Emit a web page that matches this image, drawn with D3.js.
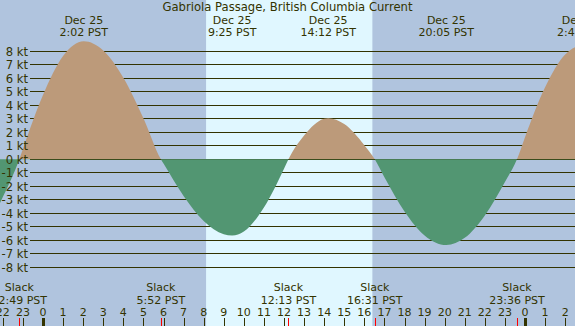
<!DOCTYPE html>
<html>
<head>
<meta charset="utf-8">
<script src="https://cdn.jsdelivr.net/npm/d3@7"></script>
<style>
  body { margin: 0; padding: 0; background: #fff; }
  svg { display: block; }
  text { font-family: "DejaVu Sans", sans-serif; font-size: 11px; fill: #333300; }
  text.big { font-size: 11.6px; }
</style>
</head>
<body>
<svg id="chart" width="575" height="326"></svg>
<script>
// current speed (hour of Dec 25, knots)
var hours = [-3, -2, -1.18, -1, 0, 1, 2.03, 3, 4, 5, 5.87, 6, 7, 8, 9, 9.42, 10, 11, 12, 12.22,
             13, 14, 14.2, 15, 16, 16.52, 17, 18, 19, 20.08, 21, 22, 23, 23.6, 24, 25, 26, 26.8, 27.5];
var knots = [-5.6, -2.8, 0, 0.77, 4.77, 7.65, 8.74, 8.06, 6.05, 3.05, 0, -0.32, -2.71, -4.57, -5.55, -5.65, -5.35, -3.57, -0.7, 0,
             1.77, 3.01, 3.05, 2.61, 1.05, 0, -1.33, -3.86, -5.64, -6.35, -5.82, -4.16, -1.68, 0, 1.64, 5.33, 7.76, 8.4, 8.1];

// max flood / max ebb labels along the top
var peakHours = [2.03, 9.42, 14.2, 20.08, 26.8];
var peakDates = ["Dec 25", "Dec 25", "Dec 25", "Dec 25", "Dec 26"];
var peakTimes = ["2:02 PST", "9:25 PST", "14:12 PST", "20:05 PST", "2:48 PST"];

// slack water along the bottom
var slackHours = [-1.18, 5.87, 12.22, 16.52, 23.6];
var slackTimes = ["22:49 PST", "5:52 PST", "12:13 PST", "16:31 PST", "23:36 PST"];

// daylight
var sunrise = 8.12;
var sunset = 16.4;

var ktTicks = [8, 7, 6, 5, 4, 3, 2, 1, 0, -1, -2, -3, -4, -5, -6, -7, -8];
var hourTicks = [-2, -1, 0, 1, 2, 3, 4, 5, 6, 7, 8, 9, 10, 11, 12, 13, 14, 15, 16, 17, 18, 19, 20, 21, 22, 23, 24, 25, 26];

var title = "Gabriola Passage, British Columbia Current";

var W = 575, H = 326;
var svg = d3.select("svg#chart");

var x = d3.scaleLinear().domain([0, 24]).range([43, 525]);
var y = d3.scaleLinear().domain([-8, 8]).range([267.3, 51.3]);
var y0 = Math.floor(y(0));

var data = hours.map(function (h, i) { return {h: h, v: knots[i]}; });

// background: night, then the daylight band
svg.append("rect").attr("width", W).attr("height", H).attr("fill", "#b0c4de");
svg.append("rect")
  .attr("x", x(sunrise)).attr("y", 0)
  .attr("width", x(sunset) - x(sunrise)).attr("height", H)
  .attr("fill", "#e0f7ff");

// clip regions above / below zero
var defs = svg.append("defs");
defs.append("clipPath").attr("id", "above")
  .append("rect").attr("x", 0).attr("y", 0).attr("width", W).attr("height", y0);
defs.append("clipPath").attr("id", "below")
  .append("rect").attr("x", 0).attr("y", y0).attr("width", W).attr("height", H - y0);

// grid lines (zero line drawn later)
svg.append("g").selectAll("line")
  .data(ktTicks.filter(function (k) { return k !== 0; }))
  .enter().append("line")
  .attr("x1", 30).attr("x2", W)
  .attr("y1", function (k) { return Math.floor(y(k)) + 0.5; })
  .attr("y2", function (k) { return Math.floor(y(k)) + 0.5; })
  .attr("stroke", "#333300").attr("stroke-width", 1);

var area = d3.area()
  .x(function (d) { return x(d.h); })
  .y0(y(0))
  .y1(function (d) { return y(d.v); })
  .curve(d3.curveMonotoneX);

// flood
svg.append("path").datum(data)
  .attr("d", area).attr("fill", "#bc9a7a")
  .attr("clip-path", "url(#above)");

// zero line
svg.append("line")
  .attr("x1", 30).attr("x2", W)
  .attr("y1", y0 + 0.5).attr("y2", y0 + 0.5)
  .attr("stroke", "#333300").attr("stroke-width", 1);

// ebb
svg.append("path").datum(data)
  .attr("d", area).attr("fill", "#529672")
  .attr("clip-path", "url(#below)");

// kt labels
svg.append("g").selectAll("text")
  .data(ktTicks)
  .enter().append("text")
  .attr("class", "big")
  .attr("x", 28)
  .attr("y", function (k) { return Math.floor(y(k)) + 4.5; })
  .attr("text-anchor", "end")
  .text(function (k) { return k + " kt"; });

// title
svg.append("text").attr("class", "big")
  .attr("x", 287.5).attr("y", 11).attr("text-anchor", "middle").text(title);

// peak labels
var peaks = svg.append("g").selectAll("g")
  .data(peakHours)
  .enter().append("g");
peaks.append("text")
  .attr("x", function (h) { return x(h); }).attr("y", 24)
  .attr("text-anchor", "middle")
  .text(function (h, i) { return peakDates[i]; });
peaks.append("text")
  .attr("x", function (h) { return x(h); }).attr("y", 36)
  .attr("text-anchor", "middle")
  .text(function (h, i) { return peakTimes[i]; });

// slack labels
var slacks = svg.append("g").selectAll("g")
  .data(slackHours)
  .enter().append("g");
slacks.append("text")
  .attr("x", function (h) { return x(h); }).attr("y", 291)
  .attr("text-anchor", "middle")
  .text("Slack");
slacks.append("text")
  .attr("x", function (h) { return x(h); }).attr("y", 304)
  .attr("text-anchor", "middle")
  .text(function (h, i) { return slackTimes[i]; });

// hour axis
var hrs = svg.append("g").selectAll("g")
  .data(hourTicks)
  .enter().append("g");
hrs.append("text")
  .attr("x", function (h) { return x(h); }).attr("y", 315.5)
  .attr("text-anchor", "middle")
  .text(function (h) { return ((h % 24) + 24) % 24; });
hrs.append("rect")
  .attr("x", function (h) { return Math.round(x(h)) - (h % 24 === 0 ? 1 : 0); })
  .attr("y", 318)
  .attr("width", function (h) { return h % 24 === 0 ? 3 : 1; })
  .attr("height", 8)
  .attr("fill", "#333300");

// slack ticks in red
svg.append("g").selectAll("rect")
  .data(slackHours)
  .enter().append("rect")
  .attr("x", function (h) { return Math.round(x(h)); })
  .attr("y", 318).attr("width", 1).attr("height", 8)
  .attr("fill", "#ff0000");
</script>
</body>
</html>
